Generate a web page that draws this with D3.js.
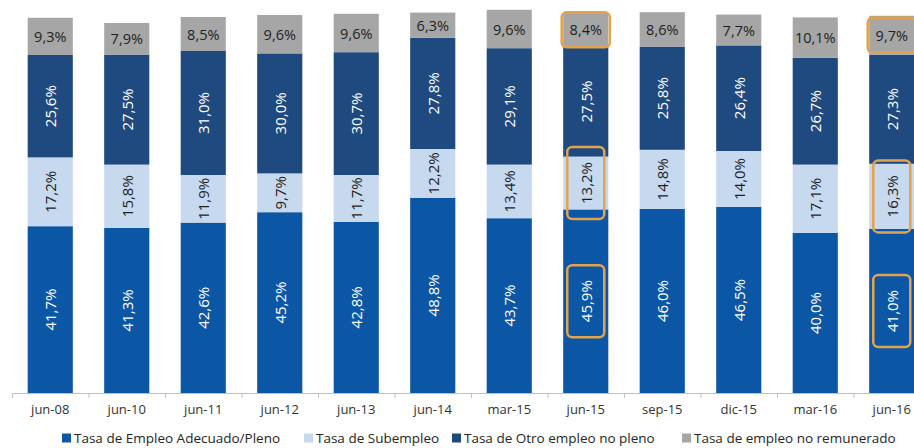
<!DOCTYPE html>
<html>
<head>
<meta charset="utf-8">
<script src="https://cdn.jsdelivr.net/npm/d3@7"></script>
<style>
  html, body { margin: 0; padding: 0; background: #ffffff; }
  svg { display: block; font-family: "Open Sans", "DejaVu Sans", sans-serif; }
</style>
</head>
<body>
<svg id="chart" width="914" height="448"></svg>
<script>
// Periods on the horizontal axis
const categories = ["jun-08", "jun-10", "jun-11", "jun-12", "jun-13", "jun-14",
                    "mar-15", "jun-15", "sep-15", "dic-15", "mar-16", "jun-16"];

// Employment composition, percent of the labour force
const adecuado     = [41.7, 41.3, 42.6, 45.2, 42.8, 48.8, 43.7, 45.9, 46.0, 46.5, 40.0, 41.0];
const subempleo    = [17.2, 15.8, 11.9,  9.7, 11.7, 12.2, 13.4, 13.2, 14.8, 14.0, 17.1, 16.3];
const otroNoPleno  = [25.6, 27.5, 31.0, 30.0, 30.7, 27.8, 29.1, 27.5, 25.8, 26.4, 26.7, 27.3];
const noRemunerado = [ 9.3,  7.9,  8.5,  9.6,  9.6,  6.3,  9.6,  8.4,  8.6,  7.7, 10.1,  9.7];

// Series names, in stacking order (bottom to top)
const seriesNames = ["Tasa de Empleo Adecuado/Pleno", "Tasa de Subempleo",
                     "Tasa de Otro empleo no pleno", "Tasa de empleo no remunerado"];

// Periods whose figures are outlined, and which series get an outline there
const highlightedPeriods = ["jun-15", "jun-16"];
const highlightedSeries  = ["adecuado", "subempleo", "noRemunerado"];

const keys = ["adecuado", "subempleo", "otroNoPleno", "noRemunerado"];
const colors = {
  adecuado: "#0b57a5",
  subempleo: "#c6d9ef",
  otroNoPleno: "#1f4a7f",
  noRemunerado: "#a6a6a6"
};
const textColors = {
  adecuado: "#ffffff",
  subempleo: "#1f1f1f",
  otroNoPleno: "#ffffff",
  noRemunerado: "#1f1f1f"
};

const rows = categories.map((c, i) => ({
  period: c,
  adecuado: adecuado[i],
  subempleo: subempleo[i],
  otroNoPleno: otroNoPleno[i],
  noRemunerado: noRemunerado[i]
}));

const svg = d3.select("#chart");

const baseline = 393;
const x = d3.scaleBand()
  .domain(categories)
  .range([12, 930])
  .paddingInner(0.41)
  .paddingOuter(0.205);

const y = d3.scaleLinear()
  .domain([0, 100])
  .range([baseline, baseline - 400]);

const stacked = d3.stack().keys(keys)(rows);

const fmt = v => d3.format(".1f")(v).replace(".", ",") + "%";

// Bars
const layers = svg.append("g").selectAll("g")
  .data(stacked)
  .join("g")
  .attr("fill", d => colors[d.key]);

layers.selectAll("rect")
  .data(d => d.map(p => ({ key: d.key, p })))
  .join("rect")
  .attr("x", d => x(d.p.data.period))
  .attr("width", x.bandwidth())
  .attr("y", d => y(d.p[1]))
  .attr("height", d => y(d.p[0]) - y(d.p[1]));

// Value labels
const labelLayer = svg.append("g");
const boxLayer = svg.append("g");

stacked.forEach(layer => {
  layer.forEach(p => {
    const period = p.data.period;
    const cx = x(period) + x.bandwidth() / 2;
    const cy = (y(p[0]) + y(p[1])) / 2;
    const horizontal = layer.key === "noRemunerado";
    const t = labelLayer.append("text")
      .attr("text-anchor", "middle")
      .attr("dominant-baseline", "central")
      .attr("font-size", horizontal ? 14.5 : 15)
      .attr("fill", textColors[layer.key])
      .attr("transform", horizontal
        ? `translate(${cx},${cy})`
        : `translate(${cx},${cy}) rotate(-90)`)
      .text(fmt(p.data[layer.key]));

    if (highlightedPeriods.includes(period) && highlightedSeries.includes(layer.key)) {
      const len = t.node().getComputedTextLength();
      let w, h;
      if (horizontal) {
        w = x.bandwidth() + 3;
        h = 35;
      } else {
        w = 37;
        h = len + 30;
      }
      boxLayer.append("rect")
        .attr("x", cx - w / 2)
        .attr("y", cy - h / 2)
        .attr("width", w)
        .attr("height", h)
        .attr("rx", 5)
        .attr("fill", "none")
        .attr("stroke", "#e3a24e")
        .attr("stroke-width", 2.5);
    }
  });
});

// Horizontal axis
const axisG = svg.append("g");
axisG.append("line")
  .attr("x1", x.range()[0]).attr("x2", 914)
  .attr("y1", baseline + 0.5).attr("y2", baseline + 0.5)
  .attr("stroke", "#bfbfbf").attr("stroke-width", 1);

axisG.selectAll("line.tick")
  .data(d3.range(categories.length + 1))
  .join("line")
  .attr("class", "tick")
  .attr("x1", i => x.range()[0] + i * x.step() + 0.5)
  .attr("x2", i => x.range()[0] + i * x.step() + 0.5)
  .attr("y1", baseline)
  .attr("y2", baseline + 5)
  .attr("stroke", "#bfbfbf");

axisG.selectAll("text")
  .data(categories)
  .join("text")
  .attr("x", d => x(d) + x.bandwidth() / 2)
  .attr("y", 414)
  .attr("text-anchor", "middle")
  .attr("font-size", 13)
  .attr("fill", "#333333")
  .text(d => d);

// Legend
const legendX = [62, 304, 452, 682];
const legend = svg.append("g");
keys.forEach((k, i) => {
  const g = legend.append("g").attr("transform", `translate(${legendX[i]},438)`);
  g.append("rect")
    .attr("x", 0).attr("y", -4.5)
    .attr("width", 9).attr("height", 9)
    .attr("fill", colors[k]);
  g.append("text")
    .attr("x", 12)
    .attr("y", 0)
    .attr("dominant-baseline", "central")
    .attr("font-size", 13.5)
    .attr("fill", "#262626")
    .text(seriesNames[i]);
});
</script>
</body>
</html>
